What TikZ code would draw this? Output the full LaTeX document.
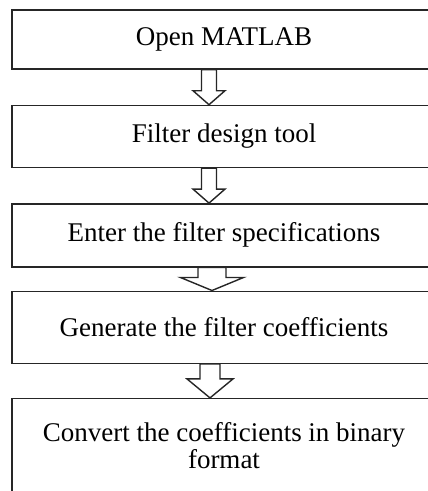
\documentclass[tikz,border=0pt]{standalone}
\usepackage{fontspec}
\setmainfont{Liberation Serif}
\usepackage{tikz}
\usetikzlibrary{positioning, calc}
\tikzstyle{stepbox} = [rectangle, minimum width=424pt, text centered, align=center, draw=black!85, line width=1.4pt, font=\fontsize{27}{27}\selectfont]
\tikzstyle{blockarr} = [draw=black!85, line width=1.4pt, fill=white, line join=miter]
% hollow arrow: from, to, x offset, shaft half width, head half width, head length
\newcommand{\blockarrow}[6]{%
	\draw [blockarr] let \p1 = ($(#1.south)+(#3,0)$), \p2 = ($(#2.north)+(#3,0)$) in
		(\x1-#4,\y1) -- (\x1-#4,\y2+#6) -- (\x1-#5,\y2+#6) -- (\x1,\y2)
		-- (\x1+#5,\y2+#6) -- (\x1+#4,\y2+#6) -- (\x1+#4,\y1) -- cycle;
}

\begin{document}
\begin{tikzpicture}[x=1pt, y=-1pt]
		\useasboundingbox (0,0) rectangle (428,491);
		\clip (0,0) rectangle (428,491);
		\node (Open)[stepbox, minimum height=59pt] at (224,39.5) {Open MATLAB};
		\node (Design)[stepbox, minimum height=62pt, below = 35pt of Open]{Filter design tool};
		\node (Specs)[stepbox, minimum height=63pt, below = 35pt of Design]{Enter the filter specifications};
		\node (Coeffs)[stepbox, minimum height=72pt, below = 23pt of Specs]{Generate the filter coefficients};
		\node (Binary)[stepbox, minimum height=94pt, below = 34pt of Coeffs]{Convert the coefficients in binary\\format};
		\blockarrow{Open}{Design}{-15pt}{7.5pt}{16pt}{14pt}
		\blockarrow{Design}{Specs}{-15pt}{7.5pt}{16pt}{14pt}
		\blockarrow{Specs}{Coeffs}{-12pt}{14pt}{31.5pt}{13pt}
		\blockarrow{Coeffs}{Binary}{-14pt}{10pt}{23pt}{19pt}
	\end{tikzpicture}
\end{document}
